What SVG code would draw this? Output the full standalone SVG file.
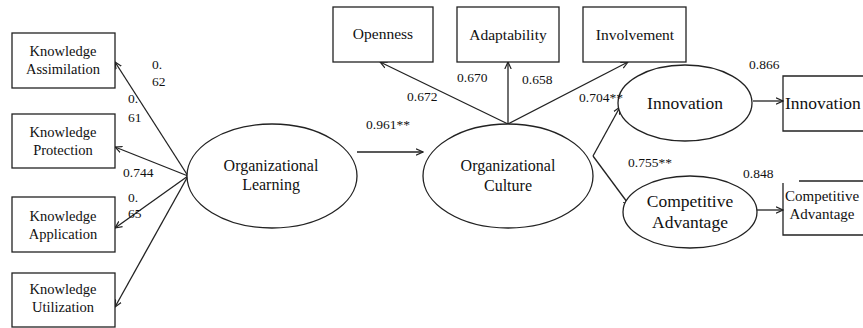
<svg xmlns="http://www.w3.org/2000/svg" width="863" height="328" viewBox="0 0 863 328" font-family="'Liberation Serif', 'Times New Roman', 'DejaVu Serif', serif">
<defs>
<marker id="ah" markerWidth="8" markerHeight="8" refX="7" refY="4" orient="auto" markerUnits="userSpaceOnUse">
<path d="M0,0.8 L7,4 L0,7.2" fill="none" stroke="#222" stroke-width="1.2"/>
</marker>
<style>
.box{fill:#fff;stroke:#222;stroke-width:1.3}
.ell{fill:#fff;stroke:#222;stroke-width:1.3}
.ln{stroke:#222;stroke-width:1.3;fill:none}
.arr{stroke:#222;stroke-width:1.3;fill:none;marker-end:url(#ah)}
text{font-family:'Liberation Serif','Times New Roman','DejaVu Serif',serif;fill:#111}
.tk{font-size:14.5px;text-anchor:middle}
.tt{font-size:15.5px;text-anchor:middle}
.t16{font-size:16px;text-anchor:middle}
.t17{font-size:17.5px;text-anchor:middle}
.num{font-size:13.5px}
</style>
</defs>
<rect width="863" height="328" fill="#fff"/>

<g id="connectors">
<line class="arr" x1="188" y1="176" x2="115" y2="62"/>
<line class="arr" x1="188" y1="176" x2="115" y2="147"/>
<line class="arr" x1="188" y1="176" x2="115" y2="228"/>
<line class="arr" x1="188" y1="176" x2="115" y2="307"/>
<line class="arr" x1="357" y1="152" x2="423" y2="152"/>
<line class="arr" x1="508" y1="124" x2="380" y2="62"/>
<line class="arr" x1="508" y1="124" x2="508" y2="62"/>
<line class="arr" x1="508" y1="124" x2="628" y2="62"/>
<line class="arr" x1="593" y1="156" x2="620" y2="107"/>
<line class="arr" x1="593" y1="156" x2="630" y2="206"/>
<line class="arr" x1="753" y1="101" x2="783" y2="101"/>
<line class="arr" x1="757" y1="210" x2="783" y2="210"/>
</g>

<g id="k-assimilation">
<rect class="box" x="12" y="33" width="103" height="55"/>
<text class="tk" x="63" y="56">Knowledge</text>
<text class="tk" x="63" y="74">Assimilation</text>
</g>
<g id="k-protection">
<rect class="box" x="12" y="114" width="103" height="54"/>
<text class="tk" x="63" y="137">Knowledge</text>
<text class="tk" x="63" y="155">Protection</text>
</g>
<g id="k-application">
<rect class="box" x="12" y="197" width="103" height="55"/>
<text class="tk" x="63" y="221">Knowledge</text>
<text class="tk" x="63" y="239">Application</text>
</g>
<g id="k-utilization">
<rect class="box" x="12" y="273" width="103" height="54"/>
<text class="tk" x="63" y="294">Knowledge</text>
<text class="tk" x="63" y="312">Utilization</text>
</g>

<g id="org-learning">
<ellipse class="ell" cx="272" cy="176" rx="85" ry="52"/>
<text class="t16" x="271" y="171">Organizational</text>
<text class="t16" x="271" y="190">Learning</text>
</g>

<g id="org-culture">
<ellipse class="ell" cx="508" cy="176" rx="85" ry="52"/>
<text class="t16" x="508" y="171">Organizational</text>
<text class="t16" x="508" y="191">Culture</text>
</g>

<g id="openness">
<rect class="box" x="333" y="7" width="100" height="55"/>
<text class="tt" x="383" y="39">Openness</text>
</g>
<g id="adaptability">
<rect class="box" x="457" y="7" width="102" height="55"/>
<text class="tt" x="508" y="40">Adaptability</text>
</g>
<g id="involvement">
<rect class="box" x="583" y="7" width="103" height="55"/>
<text class="tt" x="635" y="40">Involvement</text>
</g>

<g id="innovation-latent">
<ellipse class="ell" cx="685" cy="103" rx="67" ry="38"/>
<text class="t17" x="685" y="109">Innovation</text>
</g>
<g id="ca-latent">
<ellipse class="ell" cx="690" cy="212" rx="67" ry="36"/>
<text class="t17" x="690" y="207">Competitive</text>
<text class="t17" x="690" y="228">Advantage</text>
</g>

<g id="innovation-box">
<path class="ln" d="M863,76 H783 V131 H863"/>
<text style="font-size:17.5px" x="785" y="109">Innovation</text>
</g>
<g id="ca-box">
<path class="ln" d="M799,181 H863 M783,183 V235 H863"/>
<text style="font-size:15px" x="785" y="201">Competitive</text>
<text style="font-size:15px;text-anchor:middle" x="822" y="219">Advantage</text>
</g>

<g id="labels">
<text class="num" x="152" y="69">0.</text>
<text class="num" x="152" y="86">62</text>
<text class="num" x="128" y="103">0.</text>
<text class="num" x="128" y="122">61</text>
<text class="num" x="123" y="177">0.744</text>
<text class="num" x="128" y="202">0.</text>
<text class="num" x="128" y="218">65</text>
<text class="num" x="366" y="129">0.961**</text>
<text class="num" x="407" y="101">0.672</text>
<text class="num" x="457" y="82">0.670</text>
<text class="num" x="522" y="84">0.658</text>
<text class="num" x="579" y="102">0.704**</text>
<text class="num" x="628" y="167">0.755**</text>
<text class="num" x="749" y="69">0.866</text>
<text class="num" x="743" y="178">0.848</text>
</g>
</svg>
